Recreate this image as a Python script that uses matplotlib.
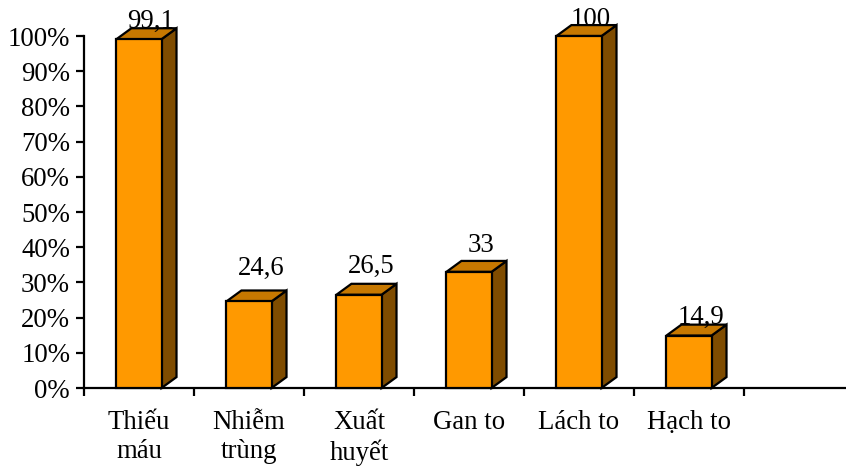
import matplotlib.pyplot as plt
from matplotlib.patches import Polygon
from matplotlib.transforms import offset_copy
import numpy as np

categories = ['Thiếu\nmáu', 'Nhiễm\ntrùng', 'Xuất\nhuyết', 'Gan to', 'Lách to', 'Hạch to']
values = [99.1, 24.6, 26.5, 33, 100, 14.9]
value_labels = ['99,1', '24,6', '26,5', '33', '100', '14,9']
yticks = np.arange(0, 101, 10)
ytick_labels = ['%d%%' % v for v in yticks]

# extra lift of each data label above its bar (points), as placed in the original
label_lift = [0, 11, 8, 6.5, -1, 0.5]

plt.rcParams['font.family'] = ['Liberation Serif', 'DejaVu Serif']
fs = 19.3

front_col = '#FF9900'
top_col = '#C77800'
side_col = '#7F4C00'

fig = plt.figure(figsize=(8.46, 4.70), dpi=100)
ax = fig.add_axes([84/846, 82/470, 762/846, 352/470])

w = 0.41      # front face width (slot units)
dx = 0.136    # depth in x
dy = 3.1      # depth in y (value units)

for i, v in enumerate(values):
    c = i + 0.5
    x0, x1 = c - w/2, c + w/2
    front = Polygon([(x0, 0), (x1, 0), (x1, v), (x0, v)], closed=True,
                    facecolor=front_col, edgecolor='black', lw=1.6, clip_on=False, zorder=3)
    top = Polygon([(x0, v), (x1, v), (x1 + dx, v + dy), (x0 + dx, v + dy)], closed=True,
                  facecolor=top_col, edgecolor='black', lw=1.6, clip_on=False, zorder=3)
    side = Polygon([(x1, 0), (x1 + dx, dy), (x1 + dx, v + dy), (x1, v)], closed=True,
                   facecolor=side_col, edgecolor='black', lw=1.6, clip_on=False, zorder=3)
    for p in (side, top, front):
        ax.add_patch(p)
    tr = offset_copy(ax.transData, fig=fig, x=0, y=label_lift[i], units='points')
    ax.text(c + dx*0.8, v + dy, value_labels[i], ha='center', va='baseline',
            fontsize=fs, zorder=4, clip_on=False, transform=tr)

ax.set_xlim(0, 762/110)
ax.set_ylim(0, 100)
ax.set_yticks(yticks)
ax.set_yticklabels(ytick_labels, fontsize=fs)
ax.set_xticks(np.arange(0, 7))
ax.set_xticklabels([])
ax.set_xticks(np.arange(len(categories)) + 0.5, minor=True)
ax.set_xticklabels(categories, minor=True, fontsize=fs, linespacing=1.2)
ax.tick_params(axis='x', which='minor', length=0, pad=16)
ax.tick_params(axis='x', which='major', direction='out', length=6, width=1.6)
ax.tick_params(axis='y', direction='out', length=6, width=1.6, pad=4)

ax.spines['right'].set_visible(False)
ax.spines['top'].set_visible(False)
ax.spines['left'].set_linewidth(1.6)
ax.spines['bottom'].set_linewidth(1.6)

fig.savefig('out.png', dpi=100)
